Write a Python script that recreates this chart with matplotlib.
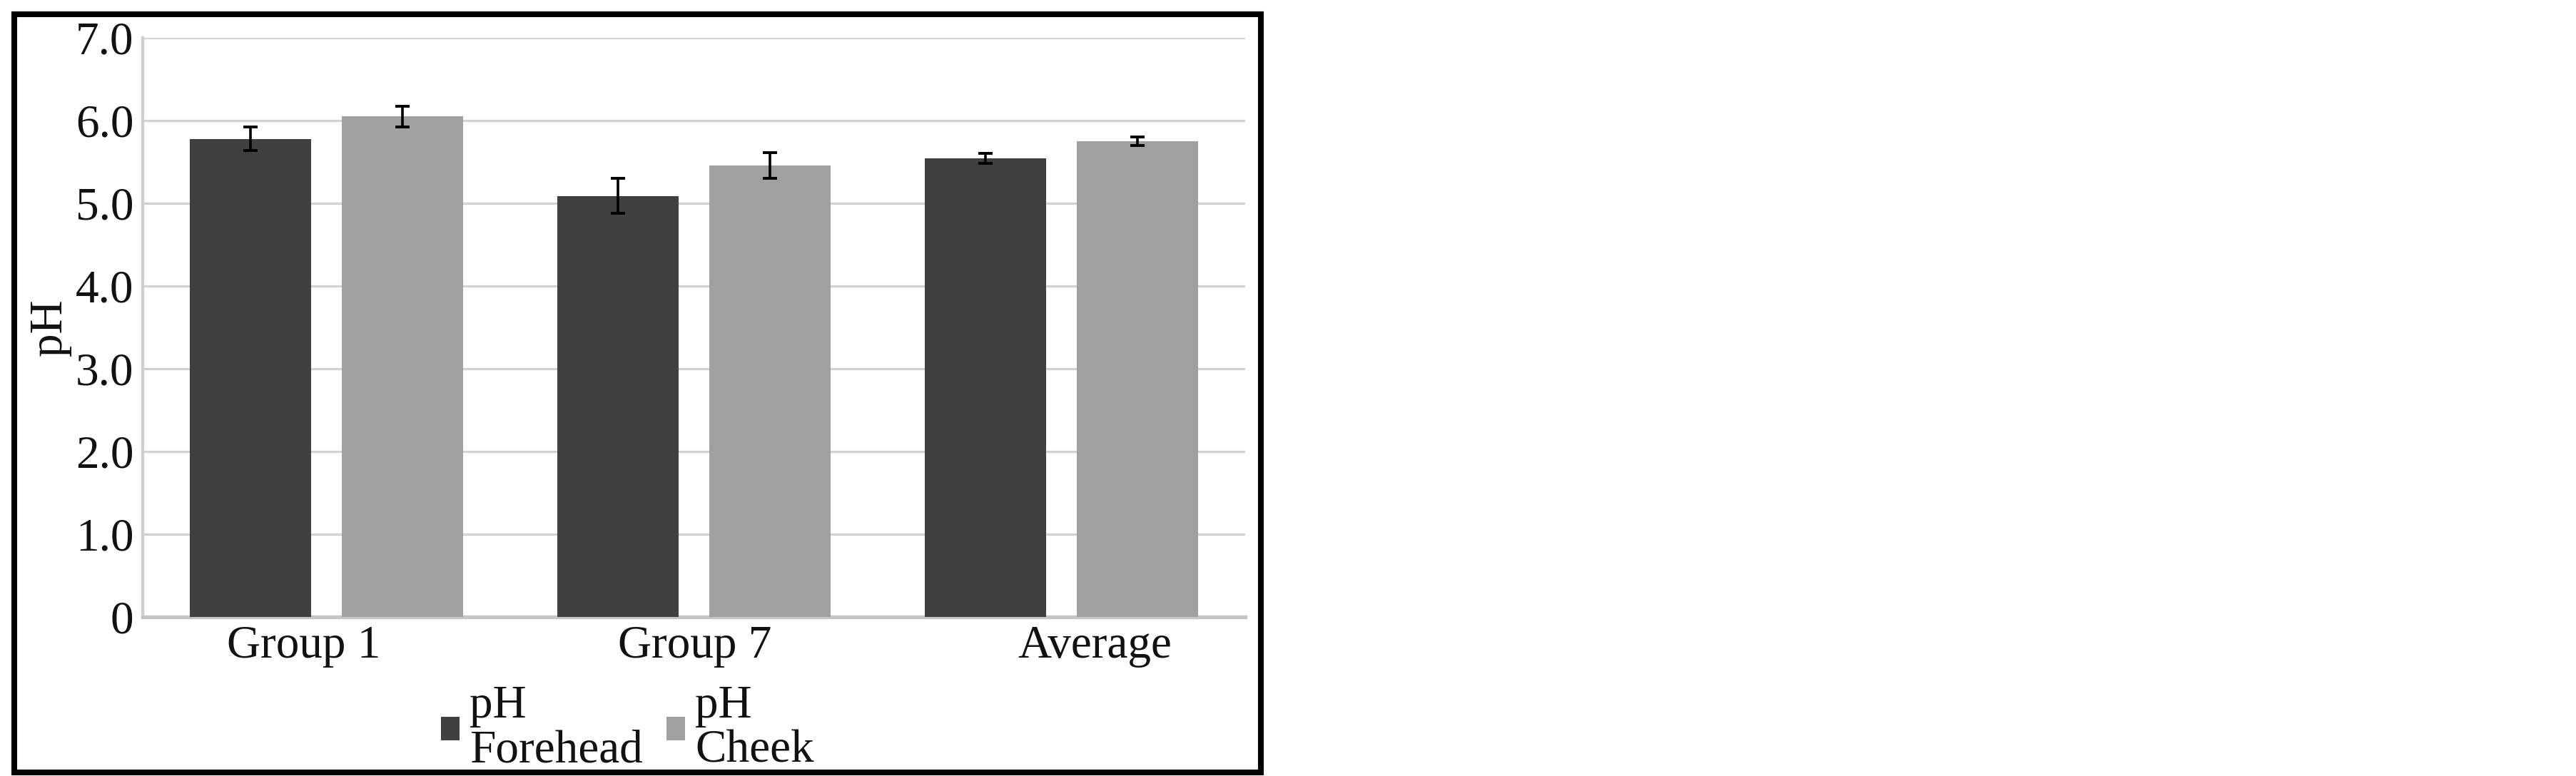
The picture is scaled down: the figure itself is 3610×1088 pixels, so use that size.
import matplotlib
matplotlib.use("Agg")
import matplotlib.pyplot as plt
from matplotlib.patches import Patch, Rectangle
from matplotlib.transforms import ScaledTranslation
import numpy as np

groups = ["Group 1", "Group 7", "Average"]
forehead = [5.78, 5.09, 5.54]
forehead_err = [0.14, 0.21, 0.06]
cheek = [6.05, 5.46, 5.75]
cheek_err = [0.125, 0.155, 0.055]
yticks = [0, 1, 2, 3, 4, 5, 6, 7]
ytick_labels = ["0", "1.0", "2.0", "3.0", "4.0", "5.0", "6.0", "7.0"]
series_labels = ["pH\nForehead", "pH\nCheek"]

plt.rcParams["font.family"] = ["Liberation Serif", "DejaVu Serif"]
FS = 47
DARK = "#404040"
LIGHT = "#a0a0a0"
TXT = "#111111"

W, H = 3610, 1088
fig = plt.figure(figsize=(W / 100, H / 100), dpi=100)

# outer black frame round the chart (left part of the image only)
fig.add_artist(Rectangle((20 / W, 5 / H), 1747 / W, 1063 / H, transform=fig.transFigure,
                         fill=False, edgecolor="black", linewidth=5.8))

ax = fig.add_axes([200 / W, 223 / H, 1545 / W, 812 / H])

x = np.arange(len(groups))
bw = 0.33
off = 0.207
err_kw = dict(ecolor="black", elinewidth=2.6, capthick=2.8)
ax.bar(x - off, forehead, bw, yerr=forehead_err, color=DARK, capsize=7.5,
       error_kw=err_kw, zorder=3, label=series_labels[0])
ax.bar(x + off, cheek, bw, yerr=cheek_err, color=LIGHT, capsize=7.5,
       error_kw=err_kw, zorder=3, label=series_labels[1])

ax.set_xlim(-0.5, 2.5)
ax.set_ylim(0, 7)
ax.set_yticks(yticks)
ax.set_yticklabels(ytick_labels)
ax.set_xticks(x)
ax.set_xticklabels(groups)
ax.tick_params(axis="y", length=0, pad=9, labelsize=FS, labelcolor=TXT)
ax.tick_params(axis="x", length=0, pad=8, labelsize=FS, labelcolor=TXT)

# Excel-like uneven placement of the category labels
shifts = [-32, 1, 47]
for lab, dx in zip(ax.get_xticklabels(), shifts):
    lab.set_transform(lab.get_transform() + ScaledTranslation(dx / 100, 0, fig.dpi_scale_trans))

ax.set_ylabel("pH", fontsize=FS, color=TXT, labelpad=4)

ax.yaxis.grid(True, color="#d2d2d2", linewidth=2.4, zorder=0)
ax.set_axisbelow(True)
for s in ["top", "right"]:
    ax.spines[s].set_visible(False)
ax.spines["left"].set_color("#cfcfcf")
ax.spines["left"].set_linewidth(3.2)
ax.spines["bottom"].set_color("#c4c4c4")
ax.spines["bottom"].set_linewidth(3.8)

handles = [Patch(facecolor=DARK), Patch(facecolor=LIGHT)]
leg = ax.legend(handles, series_labels, ncol=2, frameon=False, loc="upper left",
                bbox_to_anchor=(618 / W, 127 / H), bbox_transform=fig.transFigure,
                fontsize=FS, handlelength=0.4, handleheight=0.4, handletextpad=0.22,
                columnspacing=0.5, borderpad=0, borderaxespad=0)
for t in leg.get_texts():
    t.set_linespacing(1.05)
    t.set_color(TXT)

fig.savefig("out.png", dpi=100)
plt.close(fig)
